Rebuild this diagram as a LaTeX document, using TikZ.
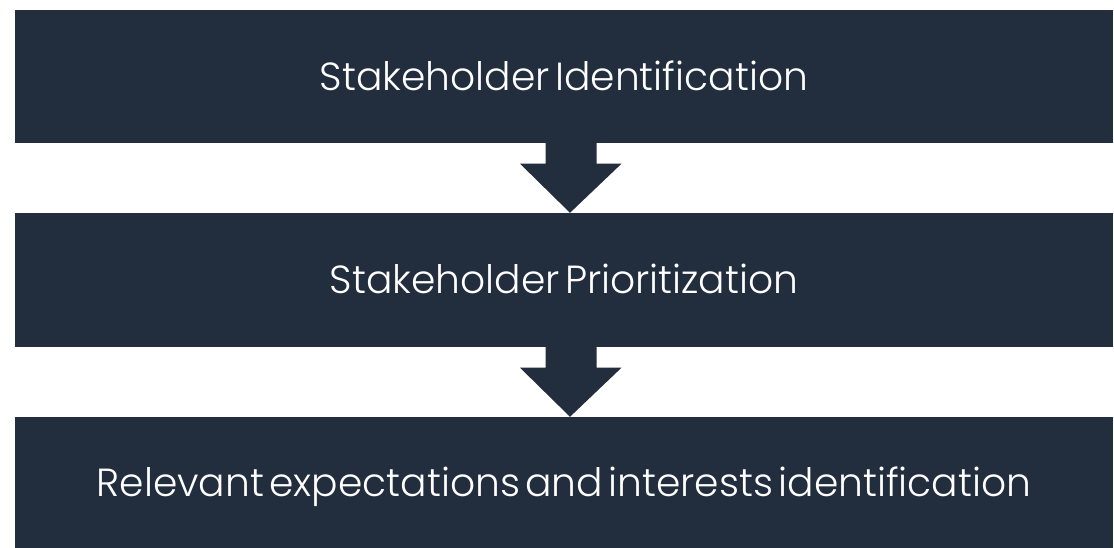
\documentclass[tikz,border=0pt]{standalone}
\usepackage{fontspec}
\setmainfont{Poppins}[UprightFont=* Light, WordSpace=0.5]
\usetikzlibrary{calc}
\definecolor{navy}{RGB}{34,46,62}
\tikzset{
  stagebox/.style={fill=navy, draw=none, minimum width=1098pt, minimum height=#1,
    inner sep=0pt, text=white, font=\fontsize{39.2}{46}\selectfont,
    text height=28pt, text depth=0pt},
}
\begin{document}
\begin{tikzpicture}[x=1pt,y=-1pt]
  \useasboundingbox (0,0) rectangle (1114,548);
  % process stages
  \node[stagebox=133pt] (b1) at (564,76.5) {Stakeholder Identification};
  \node[stagebox=134pt] (b2) at (564,280) {Stakeholder Prioritization};
  \node[stagebox=131pt] (b3) at (564,482.5) {Relevant expectations and interests identification};
  % block arrows between stages
  \foreach \a/\b in {b1/b2, b2/b3}{
    \fill[navy] ($(\a.south)+(-18.5,0)$) -- ($(\a.south)+(32.5,0)$)
      -- ($(\a.south)+(32.5,20.5)$) -- ($(\a.south)+(57.5,20.5)$)
      -- ($(\b.north)+(6,0)$) -- ($(\a.south)+(-44,20.5)$)
      -- ($(\a.south)+(-18.5,20.5)$) -- cycle;
  }
\end{tikzpicture}
\end{document}
